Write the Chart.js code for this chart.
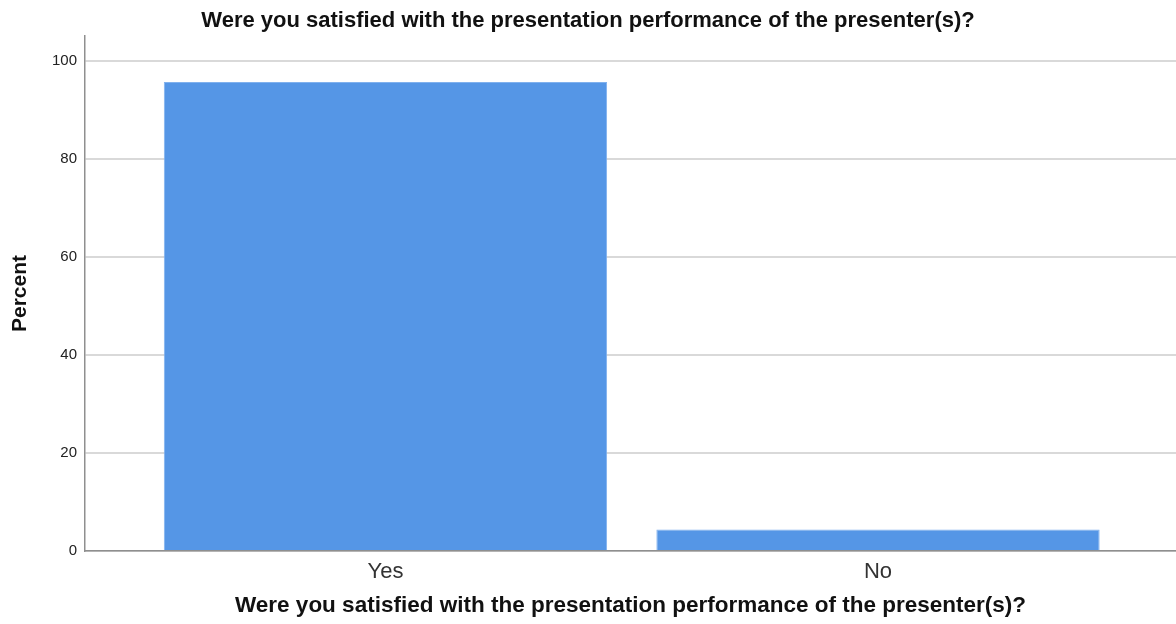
<!DOCTYPE html>
<html>
<head>
<meta charset="utf-8">
<title>Presenter satisfaction</title>
<script src="https://cdn.jsdelivr.net/npm/chart.js@4.4.1/dist/chart.umd.min.js"></script>
<style>
  html, body { margin: 0; padding: 0; background: #fff; }
  #wrap { width: 1176px; height: 624px; }
</style>
</head>
<body>
<div id="wrap"><canvas id="chart" width="1176" height="624"></canvas></div>
<script>
  // values
  var CATEGORIES = ['Yes', 'No'];
  var PERCENTS = [95.6, 4.4];
  var Y_TICKS = [0, 20, 40, 60, 80, 100];

  var QUESTION = 'Were you satisfied with the presentation performance of the presenter(s)?';
  var FONT = '"Liberation Sans", Arial, sans-serif';

  var points = CATEGORIES.map(function (c, i) { return { x: i, y: PERCENTS[i] }; });

  new Chart(document.getElementById('chart').getContext('2d'), {
    type: 'bar',
    data: {
      datasets: [{
        data: points,
        backgroundColor: '#5596e6',
        borderColor: '#80b1ee',
        borderWidth: 1,
        barPercentage: 0.9,
        categoryPercentage: 1,
      }],
    },
    options: {
      responsive: false,
      animation: false,
      layout: { padding: { top: 0, right: 0, bottom: 0, left: 0 } },
      plugins: {
        legend: { display: false },
        tooltip: { enabled: false },
        title: {
          display: true,
          text: QUESTION,
          color: '#111',
          font: { family: FONT, size: 22, weight: 'bold', lineHeight: 1.2 },
          padding: { top: 7.5, bottom: 2.1 },
        },
      },
      scales: {
        x: {
          type: 'linear',
          offset: false,
          min: -0.61,
          max: 1.605,
          grid: { display: false, drawTicks: false },
          border: { display: true, color: '#8f8f8f', width: 1.5 },
          afterBuildTicks: function (scale) {
            scale.ticks = CATEGORIES.map(function (c, i) { return { value: i }; });
          },
          afterFit: function (scale) { scale.height = 73; },
          ticks: {
            color: '#333',
            padding: 8,
            font: { family: FONT, size: 22 },
            callback: function (v) { return CATEGORIES[v]; },
          },
          title: {
            display: true,
            text: QUESTION,
            color: '#111',
            font: { family: FONT, size: 22.5, weight: 'bold', lineHeight: 1.2 },
            padding: { top: 0, bottom: 4.5 },
          },
        },
        y: {
          min: 0,
          max: 105,
          grid: { color: '#d9d9d9', lineWidth: 2, drawTicks: false },
          border: { display: true, color: '#8f8f8f', width: 1.5 },
          afterBuildTicks: function (scale) {
            scale.ticks = Y_TICKS.map(function (v) { return { value: v }; });
          },
          afterFit: function (scale) { scale.width = 85; },
          ticks: {
            color: '#222',
            padding: 8,
            font: { family: FONT, size: 15 },
          },
          title: {
            display: true,
            text: 'Percent',
            color: '#111',
            font: { family: FONT, size: 21, weight: 'bold', lineHeight: 1.2 },
            padding: { top: 8, bottom: 0 },
          },
        },
      },
    },
  });
</script>
</body>
</html>
